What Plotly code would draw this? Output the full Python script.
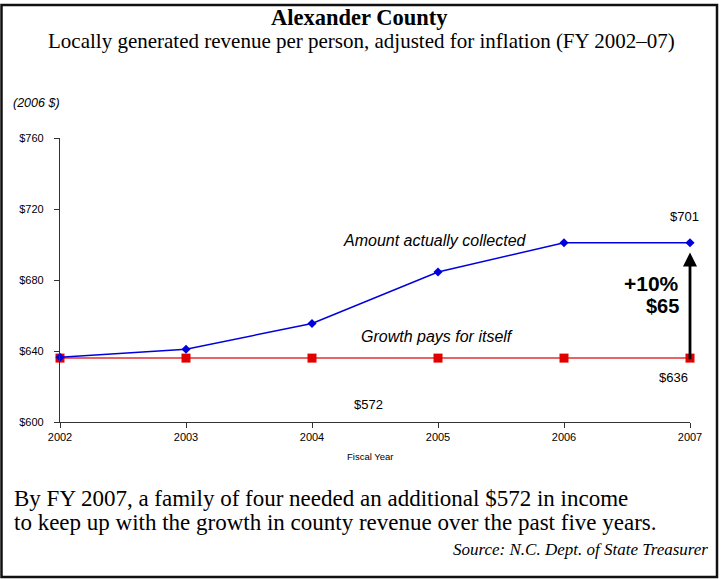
import plotly.graph_objects as go

years = [2002, 2003, 2004, 2005, 2006, 2007]
collected = [636.5, 641, 655.5, 684.5, 701, 701]
growth_pays = [636, 636, 636, 636, 636, 636]
y_ticks = [600, 640, 680, 720, 760]
y_tick_labels = ["$600", "$640", "$680", "$720", "$760"]

W, H = 723, 579
L, R, T, B = 60, 33, 138, 157
PW, PH = W - L - R, H - T - B


def px(x):
    return (x - L) / PW


def py(y):
    return (H - B - y) / PH


fig = go.Figure()
fig.add_trace(go.Scatter(
    x=years, y=growth_pays, mode="lines+markers",
    line=dict(color="#E03030", width=1.5),
    marker=dict(symbol="square", size=9, color="#E00000"),
    hoverinfo="skip", cliponaxis=False))
fig.add_trace(go.Scatter(
    x=years, y=collected, mode="lines+markers",
    line=dict(color="#0000DD", width=1.5),
    marker=dict(symbol="diamond", size=7, color="#0000DD"),
    hoverinfo="skip", cliponaxis=False))

serif = "Liberation Serif, Times New Roman, serif"
sans = "Liberation Sans, Arial, sans-serif"

ann = []


def add(text, x, y, size, family, color="#000", xanchor="center", yanchor="middle"):
    ann.append(dict(text=text, x=px(x), y=py(y), xref="paper", yref="paper",
                    showarrow=False, font=dict(size=size, family=family, color=color),
                    xanchor=xanchor, yanchor=yanchor))


add("<b>Alexander County</b>", 359, 17, 22.5, serif)
add("Locally generated revenue per person, adjusted for inflation (FY 2002\u201307)", 361, 41, 21, serif)
add("<i>(2006 $)</i>", 11, 103, 12.5, sans, xanchor="left")
add("Fiscal Year", 370, 456, 9.5, sans)
add("By FY 2007, a family of four needed an additional $572 in income", 12, 498, 23, serif, xanchor="left")
add("to keep up with the growth in county revenue over the past five years.", 12, 522, 23, serif, xanchor="left")
add("<i>Source: N.C. Dept. of State Treasurer</i>", 710, 549, 17, serif, xanchor="right")
add("$701", 684, 216, 13, sans)
add("<i>Amount actually collected</i>", 435, 240, 16, sans)
add("<i>Growth pays for itself</i>", 437, 336, 16, sans)
add("$636", 673, 377, 13, sans)
add("$572", 368, 404, 13, sans)
add("<b>+10%</b>", 681, 283, 21, sans, xanchor="right")
add("<b>$65</b>", 681, 306, 20, sans, xanchor="right")

ann.append(dict(x=2007, y=695.5, ax=2007, ay=634.5, xref="x", yref="y", axref="x", ayref="y",
                text="", showarrow=True, arrowhead=2, arrowsize=1.0, arrowwidth=2.8,
                arrowcolor="#000"))

fig.update_layout(
    width=W, height=H,
    margin=dict(l=L, r=R, t=T, b=B),
    paper_bgcolor="white", plot_bgcolor="white",
    showlegend=False,
    annotations=ann,
    shapes=[dict(type="rect", xref="paper", yref="paper",
                 x0=px(1.5), x1=px(717), y0=py(577), y1=py(5),
                 line=dict(color="#111", width=2.5), fillcolor="rgba(0,0,0,0)", layer="below")],
    xaxis=dict(range=[2002, 2007], tickvals=years, ticktext=[str(y) for y in years],
               showgrid=False, zeroline=False, showline=True, linecolor="#333", linewidth=1.2,
               ticks="outside", ticklen=5, tickcolor="#333",
               tickfont=dict(size=11, family=sans, color="#000")),
    yaxis=dict(range=[600, 760], tickvals=y_ticks, ticktext=y_tick_labels,
               showgrid=False, zeroline=False, showline=True, linecolor="#333", linewidth=1.2,
               ticks="outside", ticklen=5, tickcolor="#333", ticklabelstandoff=8,
               tickfont=dict(size=11, family=sans, color="#000")),
)

fig.write_html("out.html", config={"displayModeBar": False},
               post_script="document.body.style.margin='0';")
